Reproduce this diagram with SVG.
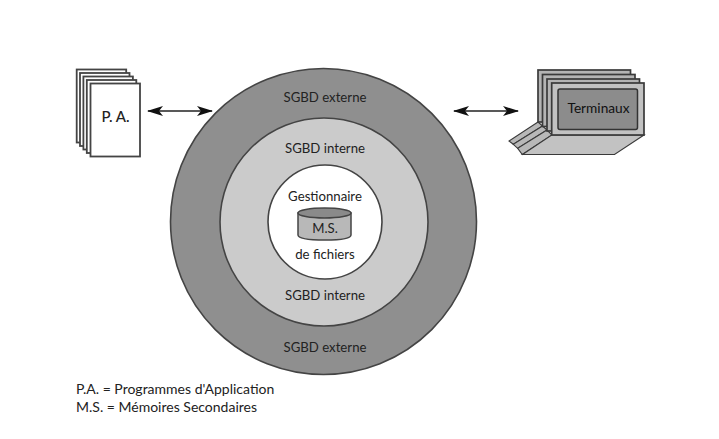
<svg xmlns="http://www.w3.org/2000/svg" width="719" height="439" viewBox="0 0 719 439">
<style>
text{font-family:"Lato","Liberation Sans",sans-serif;font-size:13.200px;fill:#222;text-anchor:middle}
.left{text-anchor:start;font-size:14px}
.ring{stroke:#444;stroke-width:1.6}
.page{fill:#fff;stroke:#444;stroke-width:1.8}
.frame{fill:#b4b4b4;stroke:#3a3a3a;stroke-width:1.7}
.kb{fill:#b8b8b8;stroke:#3a3a3a;stroke-width:1.1}
.arrow{fill:none;stroke:#222;stroke-width:1.500;marker-start:url(#a);marker-end:url(#a)}
</style>
<defs>
<marker id="a" viewBox="0 0 16 10" refX="15" refY="5" markerWidth="16" markerHeight="10" markerUnits="userSpaceOnUse" orient="auto-start-reverse"><path d="M0 0L16 5L0 10L4 5Z" fill="#111"/></marker>
</defs>
<rect width="719" height="439" fill="#fff"/>
<g id="connectors">
<line class="arrow" x1="148" y1="111" x2="212" y2="111"/>
<line class="arrow" x1="454" y1="111" x2="518" y2="111"/>
</g>
<g id="pa">
<rect class="page" x="76.700" y="69.500" width="49.500" height="73"/>
<rect class="page" x="80" y="73" width="49.500" height="73"/>
<rect class="page" x="83.400" y="76.500" width="49.500" height="73"/>
<rect class="page" x="86.800" y="80" width="49.500" height="73"/>
<rect class="page" x="90.500" y="83.500" width="49.500" height="73"/>
<text x="115.500" y="122" style="font-size:15px;font-weight:500">P. A.</text>
</g>
<g id="terminaux">
<path class="kb" d="M538 122L509 141L513.300 144.300L542.500 126Z"/>
<path class="kb" d="M542.500 126L513.300 144.300L517.700 148.300L547 130Z"/>
<path class="kb" d="M547 130L517.700 148.300L522.300 154.500L552 135Z"/>
<rect class="frame" x="538" y="70" width="92.500" height="52"/>
<rect class="frame" x="542.500" y="74.500" width="92.500" height="52"/>
<rect class="frame" x="547" y="79" width="92.500" height="52"/>
<path class="kb" d="M551.700 135H644L614.500 154.500H522.500Z" style="fill:#c2c2c2"/>
<rect class="frame" x="551.700" y="83" width="92.300" height="52" style="fill:#c2c2c2"/>
<rect x="558" y="89" width="79.500" height="40.500" rx="2" fill="#8c8c8c" stroke="#333" stroke-width="1.500"/>
<text x="598.500" y="113" style="font-size:13.700px;fill:#111">Terminaux</text>
</g>
<g id="sgbd-externe">
<circle class="ring" cx="323.500" cy="221.500" r="153" fill="#8f8f8f"/>
<text x="325" y="102">SGBD externe</text>
<text x="325" y="352">SGBD externe</text>
</g>
<g id="sgbd-interne">
<circle class="ring" cx="324" cy="222" r="104" fill="#cbcbcb"/>
<text x="325" y="153">SGBD interne</text>
<text x="325" y="300">SGBD interne</text>
</g>
<g id="gestionnaire">
<circle class="ring" cx="325" cy="222" r="57" fill="#fff"/>
<text x="325" y="201">Gestionnaire</text>
<path d="M298 213V235Q298 240 325 240Q351 240 351 235V213Z" fill="#b8b8b8" stroke="#444" stroke-width="1.500"/>
<ellipse cx="324.500" cy="213" rx="26.500" ry="5" fill="#8a8a8a" stroke="#444" stroke-width="1.500"/>
<text x="325" y="233">M.S.</text>
<text x="325" y="259">de fichiers</text>
</g>
<g id="legende">
<text class="left" x="76" y="394">P.A. = Programmes d'Application</text>
<text class="left" x="76" y="411.500">M.S. = Mémoires Secondaires</text>
</g>
</svg>
